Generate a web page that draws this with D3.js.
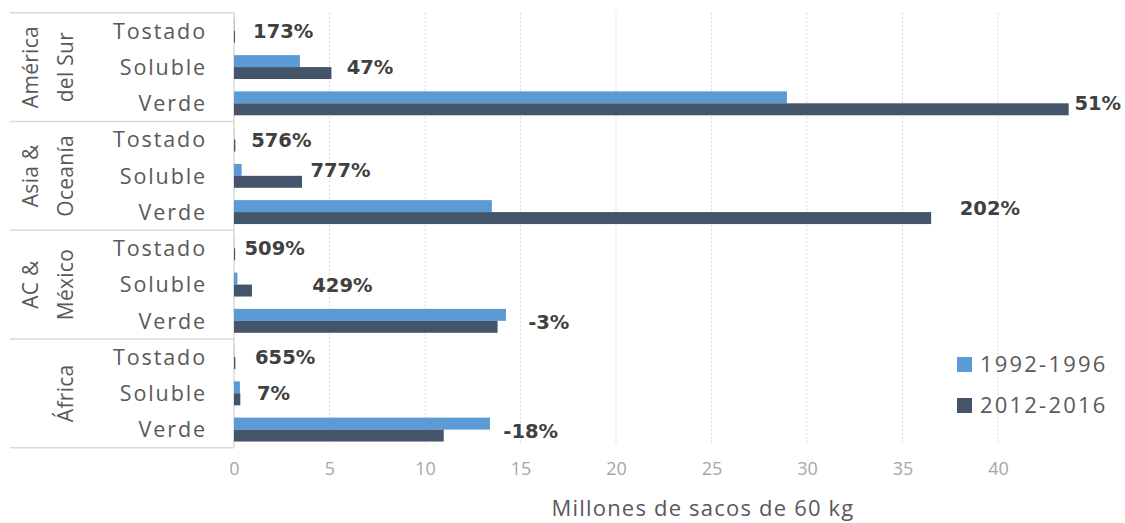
<!DOCTYPE html>
<html>
<head>
<meta charset="utf-8">
<script src="https://cdn.jsdelivr.net/npm/d3@7"></script>
<style>
  html, body { margin: 0; padding: 0; background: #fff; }
  svg { display: block; }
</style>
</head>
<body>
<svg id="chart" width="1125" height="523"></svg>
<script>
// ---- data ----
const groups = ["América del Sur", "Asia & Oceanía", "AC & México", "África"];
const groupLines = [["América", "del Sur"], ["Asia &", "Oceanía"], ["AC &", "México"], ["", "África"]];
const products = ["Tostado", "Soluble", "Verde"];
const seriesNames = ["1992-1996", "2012-2016"];
// values in millions of 60 kg bags, order: group x product
const values1992 = [0.02, 3.45, 28.95,  0.01, 0.40, 13.5,  0.01, 0.18, 14.24,  0.01, 0.31, 13.40];
const values2012 = [0.055, 5.10, 43.70, 0.07, 3.56, 36.5,  0.06, 0.94, 13.80,  0.07, 0.33, 10.98];
const changeLabels = ["173%", "47%", "51%", "576%", "777%", "202%", "509%", "429%", "-3%", "655%", "7%", "-18%"];
// label anchor (left edge) in axis units, and small vertical nudges
const labelAt = [1.0, 5.9, 44.0, 0.9, 4.0, 38.0, 0.55, 4.1, 15.4, 1.1, 1.2, 14.1];
const labelDy = [0, 0, 0, 0, -6, -4, 0, 0, 1, 0, 0, 1];
const xTicks = [0, 5, 10, 15, 20, 25, 30, 35, 40];
const xTitle = "Millones de sacos de 60 kg";
const colors = ["#5B9BD5", "#44546A"];

// ---- layout ----
const svg = d3.select("#chart");
const x0 = 234, plotTop = 12.7, plotBottom = 447.7;
const x = d3.scaleLinear().domain([0, 45]).range([x0, x0 + 45 * 19.1]);

const rows = [];
groups.forEach((g, gi) => products.forEach((p, pi) => rows.push({ key: gi + "|" + p, gi, pi, idx: gi * 3 + pi })));

const y = d3.scaleBand().domain(rows.map(r => r.key)).range([plotTop, plotBottom]).paddingInner(0.34).paddingOuter(0.17);
const ySub = d3.scaleBand().domain([0, 1]).range([0, y.bandwidth()]);
const yGroup = d3.scaleBand().domain(groups).range([plotTop, plotBottom]);
const rowCenter = k => y(k) + y.bandwidth() / 2;

const textFont = "'Open Sans', sans-serif";

// gridlines
svg.append("g").selectAll("line").data(xTicks.filter(t => t > 0)).join("line")
  .attr("x1", d => x(d)).attr("x2", d => x(d))
  .attr("y1", plotTop).attr("y2", plotBottom - 4)
  .attr("stroke", "#d9d9d9").attr("stroke-width", 1)
  .attr("stroke-dasharray", "2,2");

// x tick labels via axis
const xAxis = svg.append("g").attr("transform", `translate(0,${plotBottom + 2})`)
  .call(d3.axisBottom(x).tickValues(xTicks).tickSize(0).tickPadding(13).tickFormat(d3.format("d")));
xAxis.select(".domain").remove();
xAxis.selectAll("text").attr("fill", "#a6a6a6").attr("font-size", 18).attr("font-family", textFont);

// left table lines
const sepYs = groups.map(g => yGroup(g)).concat([plotBottom]);
svg.append("g").selectAll("line").data(sepYs).join("line")
  .attr("x1", 10).attr("x2", x0).attr("y1", d => d).attr("y2", d => d)
  .attr("stroke", "#d9d9d9").attr("stroke-width", 1.5);
svg.append("line").attr("x1", x0).attr("x2", x0).attr("y1", plotTop).attr("y2", plotBottom)
  .attr("stroke", "#d9d9d9").attr("stroke-width", 1.5);

// bars
const bars = svg.append("g");
[values1992, values2012].forEach((vals, si) => {
  bars.append("g").selectAll("rect").data(rows).join("rect")
    .attr("x", x(0))
    .attr("y", r => y(r.key) + ySub(si))
    .attr("width", r => Math.max(0, x(vals[r.idx]) - x(0)))
    .attr("height", ySub.bandwidth())
    .attr("fill", colors[si]);
});

// product labels
svg.append("g").selectAll("text").data(rows).join("text")
  .attr("x", 207).attr("y", r => rowCenter(r.key))
  .attr("dy", "0.36em")
  .attr("text-anchor", "end")
  .attr("font-family", textFont).attr("font-size", 21.5)
  .attr("letter-spacing", "1.9px")
  .attr("fill", "#595959")
  .text(r => products[r.pi]);

// group labels (rotated)
groupLines.forEach((lines, gi) => {
  const cy = yGroup(groups[gi]) + yGroup.bandwidth() / 2;
  lines.forEach((ln, li) => {
    if (!ln) return;
    const cx = li === 0 ? 30 : 65;
    svg.append("text")
      .attr("transform", `translate(${cx},${cy}) rotate(-90)`)
      .attr("text-anchor", "middle").attr("dy", "0.36em")
      .attr("font-family", textFont).attr("font-size", 21)
      .attr("letter-spacing", "0.3px")
      .attr("fill", "#595959")
      .text(ln);
  });
});

// change labels
svg.append("g").selectAll("text").data(rows).join("text")
  .attr("x", r => x(labelAt[r.idx]))
  .attr("y", r => rowCenter(r.key) + labelDy[r.idx])
  .attr("dy", "0.36em")
  .attr("font-family", "'DejaVu Sans', sans-serif").attr("font-weight", "bold")
  .attr("font-size", 19.5)
  .attr("fill", "#404040")
  .text(r => changeLabels[r.idx]);

// legend
const lg = svg.append("g").attr("transform", "translate(957,357)");
seriesNames.forEach((s, i) => {
  lg.append("rect").attr("x", 0).attr("y", i * 41).attr("width", 15).attr("height", 15).attr("fill", colors[i]);
  lg.append("text").attr("x", 23).attr("y", i * 41 + 7.5).attr("dy", "0.36em")
    .attr("font-family", textFont).attr("font-size", 22)
    .attr("letter-spacing", "2.2px")
    .attr("fill", "#595959").text(s);
});

// axis title
svg.append("text").attr("x", 703).attr("y", 516)
  .attr("text-anchor", "middle")
  .attr("font-family", textFont).attr("font-size", 22)
  .attr("letter-spacing", "1.2px")
  .attr("fill", "#595959").text(xTitle);
</script>
</body>
</html>
